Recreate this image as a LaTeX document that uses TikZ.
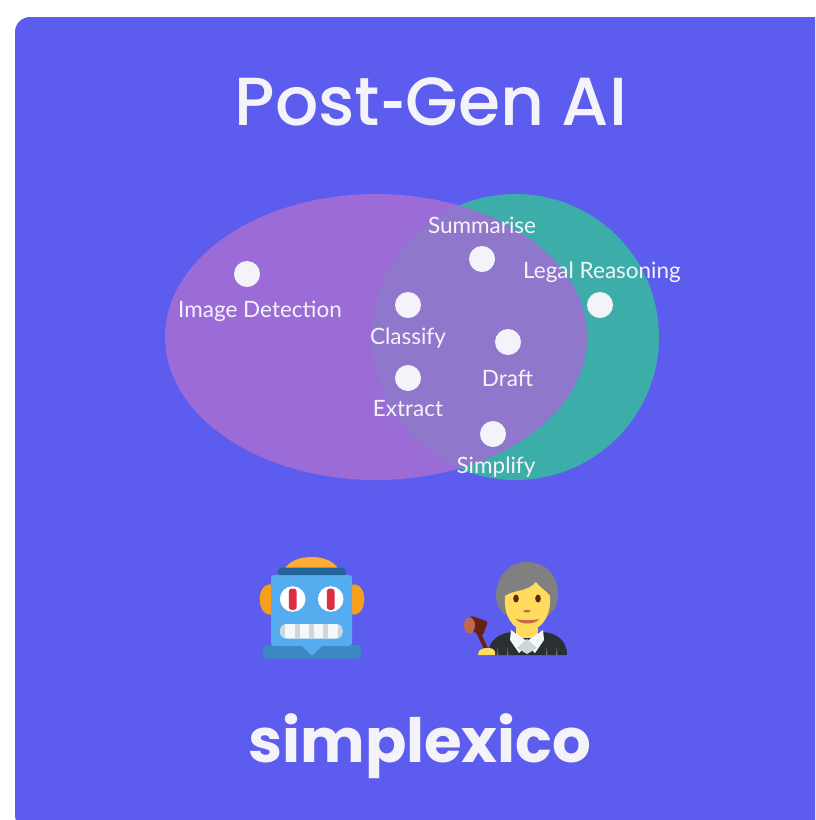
\documentclass[tikz,border=0pt]{standalone}
\usepackage{fontspec}
\setmainfont{Lato}
\newfontfamily\titlefont{Poppins Medium}
\newfontfamily\hyphfont{Lato}
\newfontfamily\brandfont{Poppins}
\definecolor{bg}{HTML}{5C5CEE}
\definecolor{purp}{HTML}{9B6BD8}
\definecolor{teal2}{HTML}{3DADAA}
\definecolor{overlap}{HTML}{8F78CC}
\definecolor{dotc}{HTML}{F5F3FA}
\definecolor{robL}{HTML}{55ACEE}
\definecolor{robD}{HTML}{3B88C3}
\definecolor{robN}{HTML}{226699}
\definecolor{orng}{HTML}{FFAC33}
\definecolor{orngD}{HTML}{F79E1B}
\definecolor{redE}{HTML}{DD2E44}
\definecolor{teeth}{HTML}{F5F8FA}
\definecolor{teethD}{HTML}{CCD6DD}
\definecolor{yel}{HTML}{FFDC5D}
\definecolor{hair}{HTML}{808080}
\definecolor{robe}{HTML}{292F33}
\definecolor{gavel}{HTML}{662113}
\definecolor{gavelH}{HTML}{C1694F}
\tikzset{
 dot/.style={circle,fill=dotc,draw=none,minimum size=26pt,inner sep=0pt},
 lab/.style={text=dotc,font=\fontsize{22.5}{25}\selectfont,inner sep=0pt,anchor=center},
}
\begin{document}
\begin{tikzpicture}[x=1pt,y=-1pt,line join=round]
\useasboundingbox (0,0) rectangle (815,820);
\fill[white] (0,0) rectangle (815,820);
\clip (0,0) rectangle (815,820);
% card
\fill[bg,rounded corners=15pt] (15,17) rectangle (860,830);
\node[text=dotc,inner sep=0pt,font=\titlefont\fontsize{68}{70}\selectfont] (title) at (431,102) {Post{\hyphfont\bfseries-}Gen AI};
% venn
\fill[teal2] (515.5,337) ellipse[x radius=143.5,y radius=143];
\fill[purp] (376,337) ellipse[x radius=211,y radius=143];
\begin{scope}
\clip (515.5,337) ellipse[x radius=143.5,y radius=143];
\fill[overlap] (376,337) ellipse[x radius=211,y radius=143];
\end{scope}
\node[dot] (d1) at (247,274) {};
\node[dot] (d2) at (482,259) {};
\node[dot] (d3) at (600,305) {};
\node[dot] (d4) at (408,305) {};
\node[dot] (d5) at (508,342) {};
\node[dot] (d6) at (408,378) {};
\node[dot] (d7) at (493,434) {};
\node[lab] (l1) at (260,311) {Image Detection};
\node[lab] (l2) at (482,225.5) {Summarise};
\node[lab] (l3) at (602,272.5) {Legal Reasoning};
\node[lab] (l4) at (408,338.5) {Classify};
\node[lab] (l5) at (507.5,378) {Draft};
\node[lab] (l6) at (408,409) {Extract};
\node[lab] (l7) at (496,467) {Simplify};
% robot
\fill[orng] (285,569) .. controls (292,553) and (331,553) .. (338,569) -- cycle;
\fill[orngD,rounded corners=2pt] (272,584) -- (266,585) .. controls (258,592) and (258,606) .. (266,614) -- (272,615) -- cycle;
\fill[orngD,rounded corners=2pt] (352,584) -- (358,585) .. controls (366,592) and (366,606) .. (358,614) -- (352,615) -- cycle;
\fill[robD,rounded corners=3pt] (263,645) rectangle (361,658.5);
\fill[robL,rounded corners=3pt] (271,575) rectangle (352,646);
\fill[robL] (301,645) -- (323,645) -- (312,655.5) -- cycle;
\fill[robN,rounded corners=3pt] (277,575) -- (279,567.5) -- (345,567.5) -- (347,575) -- cycle;
\fill[white] (292.7,599) circle[radius=12.8];
\fill[white] (330.7,599) circle[radius=12.8];
\fill[redE,rounded corners=3pt] (288.8,588.5) rectangle (296.6,610);
\fill[redE,rounded corners=3pt] (326.8,588.5) rectangle (334.6,610);
\begin{scope}
\clip[rounded corners=7pt] (280,624) rectangle (343,638.5);
\fill[teeth] (280,624) rectangle (343,638.5);
\fill[teethD] (280,624) rectangle (285,638.5);
\fill[teethD] (338,624) rectangle (343,638.5);
\fill[teethD] (295,624) rectangle (300,638.5);
\fill[teethD] (309,624) rectangle (314,638.5);
\fill[teethD] (323,624) rectangle (328,638.5);
\end{scope}
% judge
\fill[hair] (527,562) .. controls (508,562) and (496,578) .. (496,596) .. controls (496,606) and (502,614) .. (510,617) -- (545,617) .. controls (553,614) and (558,606) .. (558,594) .. controls (558,576) and (546,562) .. (527,562) -- cycle;
\fill[robe] (488,655) .. controls (488,640) and (500,633) .. (512,632) -- (543,632) .. controls (556,633) and (567,640) .. (567,655) -- cycle;
\foreach \sx in {497,507,546,556} {\fill[black!55] (\sx,655) -- (\sx+.7,647) -- (\sx+1.4,655) -- cycle;}
\fill[yel] (516,620) rectangle (538,638);
\fill[teeth] (511,630) -- (527,641) -- (543,630) -- (544,640) -- (535,653) -- (527,645) -- (519,653) -- (510,640) -- cycle;
\fill[teethD] (517,648) -- (527,639) -- (537,648) -- (527,654) -- cycle;
\fill[yel] (505,596) .. controls (512,590) and (528,592) .. (536,582) .. controls (540,588) and (547,591) .. (550,596) .. controls (552,615) and (541,631) .. (527,631) .. controls (513,631) and (503,615) .. (505,596) -- cycle;
\fill[gavel] (516,598.5) ellipse[x radius=2.8,y radius=4];
\fill[gavel] (538,598.5) ellipse[x radius=2.8,y radius=4];
\fill[gavelH] (523,611) .. controls (525,609.5) and (529,609.5) .. (531,611) .. controls (529,613) and (525,613) .. (523,611) -- cycle;
\fill[gavelH] (516,619) .. controls (522,620.5) and (533,620.5) .. (539,619) .. controls (535,625) and (520,625) .. (516,619) -- cycle;
\draw[gavel,line width=4pt] (476,627) -- (486,649);
\fill[gavel,rotate around={-20:(475,625)},rounded corners=2pt] (468,617.5) rectangle (486,632);
\fill[gavelH] (469.5,625.5) ellipse[x radius=5.5,y radius=8];
\fill[yel] (478,655) .. controls (478,649) and (483,648) .. (488,648) .. controls (493,648) and (496,650) .. (495,655) -- cycle;
\node[text=dotc,inner sep=0pt,font=\brandfont\bfseries\fontsize{61}{64}\selectfont] (brand) at (420,746.5) {simplexico};
\end{tikzpicture}
\end{document}
